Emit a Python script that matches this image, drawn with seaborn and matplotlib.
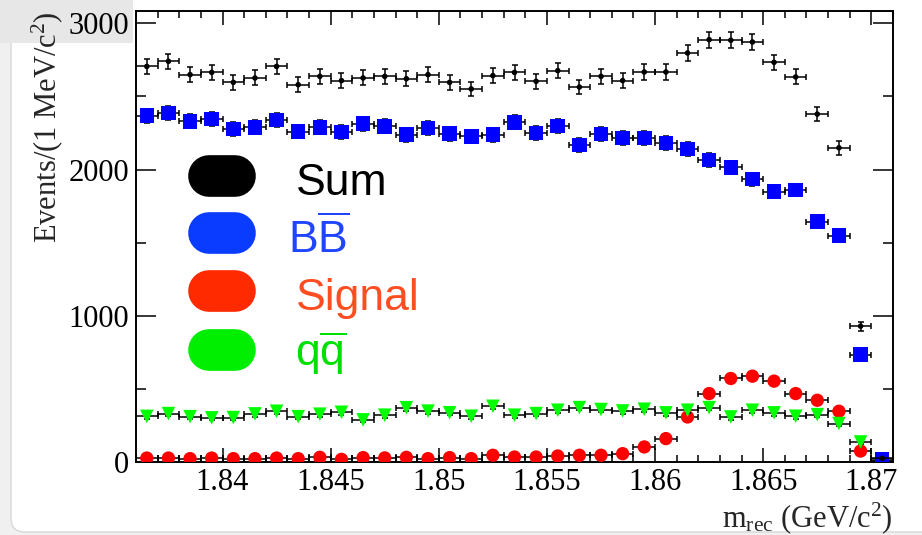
import numpy as np
import pandas as pd
import matplotlib
matplotlib.use("Agg")
import matplotlib.pyplot as plt
import seaborn as sns
from matplotlib.ticker import MultipleLocator, FuncFormatter
from matplotlib.patches import FancyBboxPatch, Rectangle
from matplotlib.transforms import IdentityTransform

# bin centres of m_rec in GeV/c^2 (1 MeV bins)
m_rec = [1.8365, 1.8375, 1.8385, 1.8395, 1.8405, 1.8415, 1.8425, 1.8435, 1.8445,
         1.8455, 1.8465, 1.8475, 1.8485, 1.8495, 1.8505, 1.8515, 1.8525, 1.8535,
         1.8545, 1.8555, 1.8565, 1.8575, 1.8585, 1.8595, 1.8605, 1.8615, 1.8625,
         1.8635, 1.8645, 1.8655, 1.8665, 1.8675, 1.8685, 1.8695, 1.8705]

sum_events = [2705, 2740, 2649, 2664, 2596, 2626, 2705, 2580, 2637, 2608, 2626, 2637,
              2621, 2649, 2596, 2551, 2642, 2664, 2603, 2676, 2564, 2637, 2608, 2667,
              2667, 2797, 2888, 2884, 2872, 2733, 2633, 2379, 2149, 929, 25]
bb_events = [2368, 2386, 2329, 2345, 2277, 2288, 2340, 2260, 2288, 2256, 2313, 2295,
             2238, 2283, 2245, 2226, 2238, 2322, 2249, 2299, 2169, 2243, 2215, 2215,
             2181, 2140, 2066, 2014, 1934, 1849, 1861, 1644, 1548, 735, 20]
signal_events = [27, 27, 23, 27, 23, 23, 27, 23, 32, 18, 30, 28, 32, 23, 30, 23, 46, 34,
                 34, 41, 46, 46, 57, 103, 160, 308, 468, 571, 587, 553, 468, 422, 347, 75, 5]
qq_events = [312, 331, 310, 302, 304, 329, 347, 310, 327, 340, 288, 320, 371, 348, 337,
             313, 381, 320, 331, 354, 372, 359, 349, 361, 336, 354, 372, 308, 354, 336,
             313, 324, 263, 137, 10]

legend_labels = ["Sum", r"$\mathsf{B\overline{B}}$", "Signal", r"$\mathsf{q\overline{q}}$"]

df = pd.DataFrame({"m_rec": m_rec, "Sum": sum_events, "BB": bb_events,
                   "Signal": signal_events, "qq": qq_events})

sns.set_style("ticks")
plt.rcParams["font.family"] = ["Liberation Serif", "DejaVu Serif"]
plt.rcParams["mathtext.fontset"] = "custom"
plt.rcParams["mathtext.rm"] = "Liberation Serif"
plt.rcParams["mathtext.it"] = "Liberation Serif:italic"
plt.rcParams["mathtext.sf"] = "Liberation Sans"

fig = plt.figure(figsize=(9.22, 5.35), dpi=100)
fig.patch.set_facecolor("#f0f0f0")
fig.add_artist(FancyBboxPatch((11, 3), 1000, 600, boxstyle="round,pad=0,rounding_size=14",
                              transform=IdentityTransform(), fc="white", ec="#d8d8d8",
                              lw=1, zorder=-10))
fig.add_artist(Rectangle((0, 535 - 43), 133, 43, transform=IdentityTransform(),
                         fc="#e7e7e7", ec="none", zorder=-9))

ax = fig.add_axes([136 / 922, 73 / 535, 757 / 922, 451 / 535])

# draw order: signal, qq, BB, sum (later ones on top)
series = [("Signal", "o", 92, "#ff0000", 3),
          ("qq", "v", 95, "#00ff00", 4),
          ("BB", "s", 110, "#0000ff", 5),
          ("Sum", "o", 16, "black", 6)]
for col, mk, size, c, z in series:
    ax.errorbar(df["m_rec"], df[col], xerr=0.0005, yerr=np.sqrt(df[col]), fmt="none",
                ecolor="black", elinewidth=1.1, capsize=2.2, capthick=1.1, zorder=z)
    sns.scatterplot(data=df, x="m_rec", y=col, marker=mk, s=size, color=c,
                    edgecolor="none", linewidth=0, ax=ax, zorder=z + 0.5)

ax.set_xlim(1.836, 1.871)
ax.set_ylim(0, 3084)
ax.xaxis.set_major_locator(MultipleLocator(0.005))
ax.xaxis.set_minor_locator(MultipleLocator(0.001))
ax.yaxis.set_major_locator(MultipleLocator(1000))
ax.yaxis.set_minor_locator(MultipleLocator(500))
ax.xaxis.set_major_formatter(FuncFormatter(lambda v, _: f"{v:g}"))
ax.tick_params(which="both", direction="in", top=True, right=True, width=1.1,
               labelsize=22, colors="black")
ax.tick_params(axis="y", which="major", length=14.5, pad=5)
ax.tick_params(axis="y", which="minor", length=7.5)
ax.tick_params(axis="x", which="major", length=10, pad=4)
ax.tick_params(axis="x", which="minor", length=5)
for sp in ax.spines.values():
    sp.set_linewidth(1.4)
    sp.set_color("black")

ax.set_xlabel(r"m$_{\rm rec}$ (GeV/c$^{2}$)", fontsize=22)
ax.xaxis.set_label_coords(1.0, -0.085)
ax.xaxis.label.set_horizontalalignment("right")
ax.set_ylabel(r"Events/(1 MeV/c$^{2}$)", fontsize=22)
ax.yaxis.set_label_coords(-0.094, 1.0)
ax.yaxis.label.set_horizontalalignment("right")

# hand-made legend with rounded blobs
pill_colors = ["black", "#0a3cff", "#ff2a00", "#00ee00"]
text_colors = ["black", "#1f45ff", "#ff4d22", "#00e000"]
pill_y = [0.634, 0.507, 0.379, 0.249]
text_y = [0.592, 0.463, 0.337, 0.213]
text_x = [0.211, 0.201, 0.211, 0.210]
for lab, pc, tc, py, ty, tx in zip(legend_labels, pill_colors, text_colors, pill_y, text_y, text_x):
    ax.plot([0.0965, 0.1305], [py, py], transform=ax.transAxes, lw=30,
            solid_capstyle="round", color=pc, clip_on=False, zorder=8)
    ax.text(tx, ty, lab, transform=ax.transAxes, fontsize=32, color=tc,
            family=["Liberation Sans", "DejaVu Sans"], va="baseline", ha="left", zorder=8)

fig.savefig("out.png", dpi=100, facecolor=fig.get_facecolor())
